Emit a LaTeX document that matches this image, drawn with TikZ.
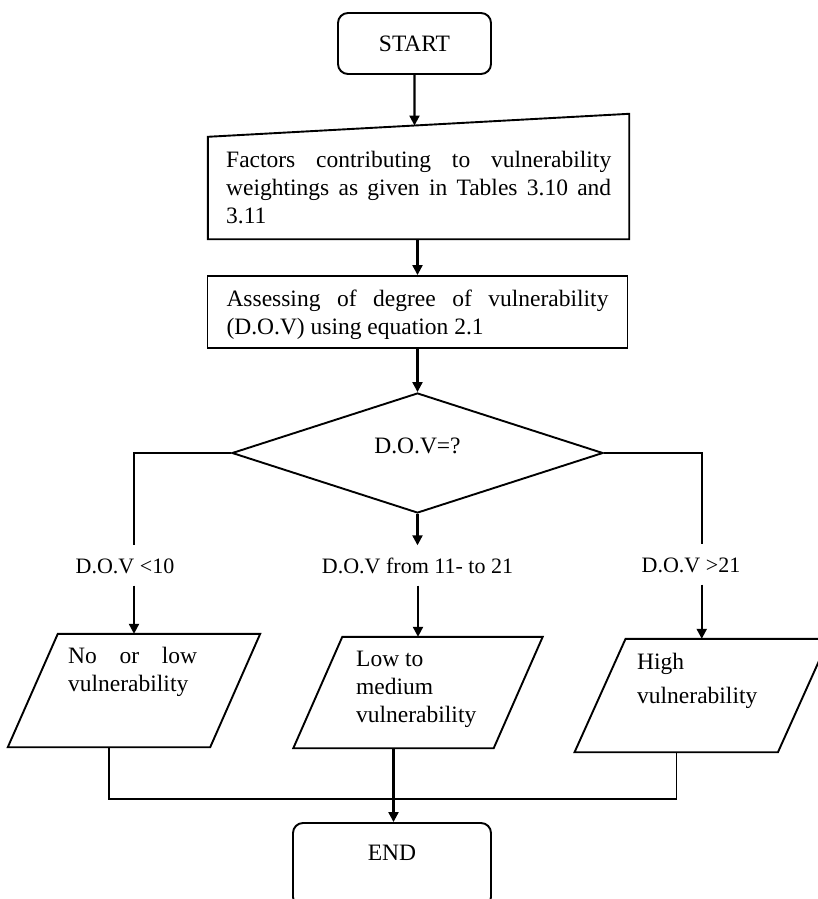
\documentclass[tikz,border=0pt]{standalone}
\usepackage{fontspec}
\setmainfont{Liberation Serif}
\usetikzlibrary{arrows.meta,shapes.geometric,calc}
\begin{document}
\begin{tikzpicture}[x=1pt,y=-1pt,
  every node/.style={font=\fontsize{23.5}{28}\selectfont, inner sep=0pt},
  outline/.style={draw, line width=1.9pt, line join=miter},
  terminal/.style={outline, rounded corners=10pt, minimum width=153pt, minimum height=61pt},
  process/.style={outline, minimum width=420pt, minimum height=72pt, align=left},
  decision/.style={outline, diamond, aspect=3, minimum width=371pt, minimum height=120pt,
                   text height=16pt, text depth=16pt},
  cond/.style={font=\fontsize{22}{26}\selectfont, text height=15pt, text depth=0pt,
               inner xsep=2pt, inner ysep=12.5pt},
  lines/.style={anchor=north west, align=left},
  flow/.style={line width=2.2pt, -{Triangle[length=10pt,width=10pt]}},
  link/.style={line width=1.8pt},
  mergeline/.style={line width=1.5pt},
]
\useasboundingbox (0,0) rectangle (818,899);

% start terminal
\node[terminal] (start) at (414.5,43.5) {START};

% manual-input box with slanted top edge
\node[minimum width=421pt, minimum height=125pt] (f1) at (418.5,176.5) {};
\draw[outline] (f1.south west) -- (f1.south east) -- (f1.north east)
  -- ($(f1.north west)+(0,23)$) -- cycle;
\node[lines] (f1t) at (226,151)
  {\makebox[385pt][s]{Factors contributing to vulnerability}\\
   \makebox[385pt][s]{weightings as given in Tables 3.10 and}\\
   3.11};
\coordinate (f1in) at ($($(f1.north west)+(0,23)$)!0.4905!(f1.north east)$);

% assessment step
\node[process] (f2) at (417.5,312)
  {\rule{0pt}{23pt}\makebox[382pt][s]{Assessing of degree of vulnerability}\\
   (D.O.V) using equation 2.1};

% decision
\node[decision] (dia) at (417.5,453) {D.O.V=?};

% branch conditions
\node[cond] (l1) at (125,565.5) {D.O.V <10};
\node[cond] (l2) at (417.5,565.5) {D.O.V from 11- to 21};
\node[cond] (l3) at (691,564.5) {D.O.V >21};

% outcome parallelograms
\node[minimum width=202pt, minimum height=113pt] (p1) at (134,690.5) {};
\node[minimum width=200pt, minimum height=111pt] (p2) at (418,692.5) {};
\node[minimum width=203pt, minimum height=113pt] (p3) at (701.75,695.5) {};
\draw[outline] ($(p1.south west)+(-25,0)$) -- ($(p1.south east)+(-25,0)$)
  -- ($(p1.north east)+(25,0)$) -- ($(p1.north west)+(25,0)$) -- cycle;
\draw[outline] ($(p2.south west)+(-24.5,0)$) -- ($(p2.south east)+(-24.5,0)$)
  -- ($(p2.north east)+(24.5,0)$) -- ($(p2.north west)+(24.5,0)$) -- cycle;
\draw[outline] ($(p3.south west)+(-25.5,0)$) -- ($(p3.south east)+(-25.5,0)$)
  -- ($(p3.north east)+(25.5,0)$) -- ($(p3.north west)+(25.5,0)$) -- cycle;
\node[lines] (p1t) at (68,647) {\makebox[129pt][s]{No or low}\\vulnerability};
\node[lines] (p2t) at (356,651) {Low to\\medium\\vulnerability};
\node[lines] (p3t) at (637,653) {High\\[6pt]vulnerability};
\coordinate (p1out) at ($(p1.south)+(-25,0)$);
\coordinate (p2out) at ($(p2.south)+(-24.5,0)$);
\coordinate (p3out) at ($(p3.south)+(-25.5,0)$);

% end terminal
\node[terminal, minimum width=198pt, minimum height=84pt, text height=16pt, text depth=26pt]
  (end) at (392,865) {END};
\coordinate (merge) at ($(end.north)+(0,-23)$);

% connectors
\draw[flow] (start.south) -- (f1in);
\draw[flow] (f1.south -| f2.north) -- (f2.north);
\draw[flow] (f2.south) -- (dia.north);
\draw[link] (dia.west) -| (l1.north -| p1.north);
\draw[link] (dia.east) -| (l3.north -| p3.north);
\draw[flow] (dia.south) -- (l2.north);
\draw[flow] (l1.south -| p1.north) -- (p1.north);
\draw[flow] (l2.south -| p2.north) -- (p2.north);
\draw[flow] (l3.south -| p3.north) -- (p3.north);
\draw[mergeline] (p1out) -- (p1out |- merge) -- (p3out |- merge) -- (p3out);
\draw[flow] (p2out) -- (p2out |- end.north);
\end{tikzpicture}
\end{document}
